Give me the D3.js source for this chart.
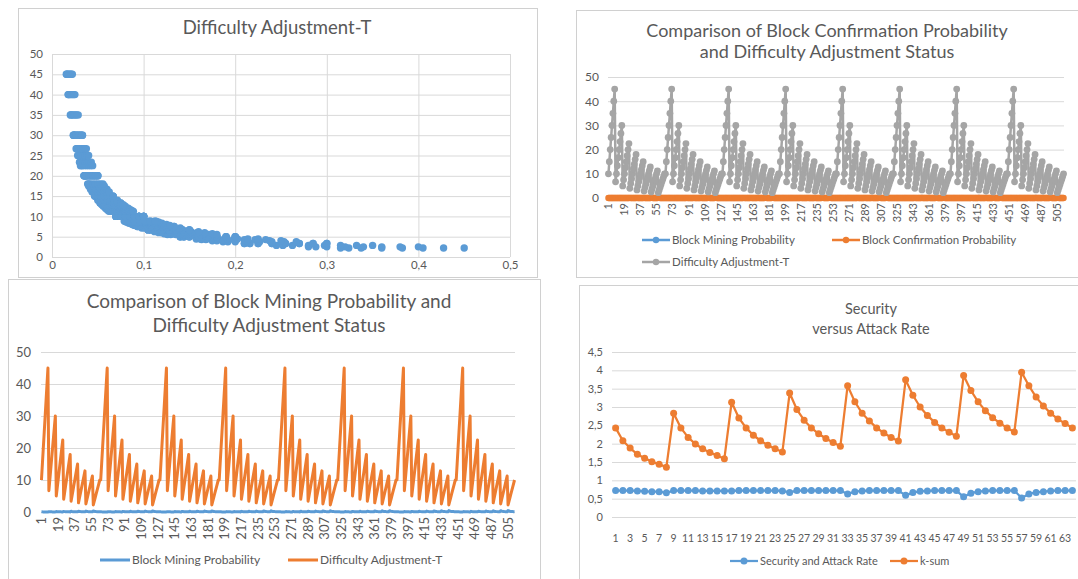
<!DOCTYPE html>
<html>
<head>
<meta charset="utf-8">
<script src="https://cdn.jsdelivr.net/npm/d3@7/dist/d3.min.js"></script>
<style>
  body { margin: 0; background: #fff; }
  text { font-family: Lato, "Open Sans", sans-serif; }
</style>
</head>
<body>
<svg id="chart" width="1078" height="579"></svg>
<script>
// ---- data (one row per 64-step cycle) ----
var difficultyT = [].concat(
  [10,15,20,25,30,35,40,45,6.67,10,13.33,16.67,20,23.33,26.67,30,5,7.5,10,12.5,15,17.5,20,22.5,4,6,8,10,12,14,16,18,3.33,5,6.67,8.33,10,11.67,13.33,15,2.86,4.29,5.71,7.14,8.57,10,11.43,12.86,2.5,3.75,5,6.25,7.5,8.75,10,11.25,2.22,3.33,4.44,5.56,6.67,7.78,8.89,10],
  [10,15,20,25,30,35,40,45,6.67,10,13.33,16.67,20,23.33,26.67,30,5,7.5,10,12.5,15,17.5,20,22.5,4,6,8,10,12,14,16,18,3.33,5,6.67,8.33,10,11.67,13.33,15,2.86,4.29,5.71,7.14,8.57,10,11.43,12.86,2.5,3.75,5,6.25,7.5,8.75,10,11.25,2.22,3.33,4.44,5.56,6.67,7.78,8.89,10],
  [10,15,20,25,30,35,40,45,6.67,10,13.33,16.67,20,23.33,26.67,30,5,7.5,10,12.5,15,17.5,20,22.5,4,6,8,10,12,14,16,18,3.33,5,6.67,8.33,10,11.67,13.33,15,2.86,4.29,5.71,7.14,8.57,10,11.43,12.86,2.5,3.75,5,6.25,7.5,8.75,10,11.25,2.22,3.33,4.44,5.56,6.67,7.78,8.89,10],
  [10,15,20,25,30,35,40,45,6.67,10,13.33,16.67,20,23.33,26.67,30,5,7.5,10,12.5,15,17.5,20,22.5,4,6,8,10,12,14,16,18,3.33,5,6.67,8.33,10,11.67,13.33,15,2.86,4.29,5.71,7.14,8.57,10,11.43,12.86,2.5,3.75,5,6.25,7.5,8.75,10,11.25,2.22,3.33,4.44,5.56,6.67,7.78,8.89,10],
  [10,15,20,25,30,35,40,45,6.67,10,13.33,16.67,20,23.33,26.67,30,5,7.5,10,12.5,15,17.5,20,22.5,4,6,8,10,12,14,16,18,3.33,5,6.67,8.33,10,11.67,13.33,15,2.86,4.29,5.71,7.14,8.57,10,11.43,12.86,2.5,3.75,5,6.25,7.5,8.75,10,11.25,2.22,3.33,4.44,5.56,6.67,7.78,8.89,10],
  [10,15,20,25,30,35,40,45,6.67,10,13.33,16.67,20,23.33,26.67,30,5,7.5,10,12.5,15,17.5,20,22.5,4,6,8,10,12,14,16,18,3.33,5,6.67,8.33,10,11.67,13.33,15,2.86,4.29,5.71,7.14,8.57,10,11.43,12.86,2.5,3.75,5,6.25,7.5,8.75,10,11.25,2.22,3.33,4.44,5.56,6.67,7.78,8.89,10],
  [10,15,20,25,30,35,40,45,6.67,10,13.33,16.67,20,23.33,26.67,30,5,7.5,10,12.5,15,17.5,20,22.5,4,6,8,10,12,14,16,18,3.33,5,6.67,8.33,10,11.67,13.33,15,2.86,4.29,5.71,7.14,8.57,10,11.43,12.86,2.5,3.75,5,6.25,7.5,8.75,10,11.25,2.22,3.33,4.44,5.56,6.67,7.78,8.89,10],
  [10,15,20,25,30,35,40,45,6.67,10,13.33,16.67,20,23.33,26.67,30,5,7.5,10,12.5,15,17.5,20,22.5,4,6,8,10,12,14,16,18,3.33,5,6.67,8.33,10,11.67,13.33,15,2.86,4.29,5.71,7.14,8.57,10,11.43,12.86,2.5,3.75,5,6.25,7.5,8.75,10,11.25,2.22,3.33,4.44,5.56,6.67,7.78,8.89,10]
);

var blockMining = [].concat(
  [.07,.0467,.035,.028,.0233,.02,.0175,.0156,.105,.07,.0525,.042,.035,.03,.0263,.0233,.14,.0933,.07,.056,.0467,.04,.035,.0311,.175,.1167,.0875,.07,.0583,.05,.0438,.0389,.21,.14,.105,.084,.07,.06,.0525,.0467,.245,.1633,.1225,.098,.0817,.07,.0613,.0544,.28,.1867,.14,.112,.0933,.08,.07,.0622,.315,.21,.1575,.126,.105,.09,.0788,.07],
  [.072,.048,.036,.0288,.024,.0206,.018,.016,.108,.072,.054,.0432,.036,.0309,.027,.024,.144,.096,.072,.0576,.048,.0411,.036,.032,.18,.12,.09,.072,.06,.0514,.045,.04,.216,.144,.108,.0864,.072,.0617,.054,.048,.252,.168,.126,.1008,.084,.072,.063,.056,.288,.192,.144,.1152,.096,.0823,.072,.064,.324,.216,.162,.1296,.108,.0926,.081,.072],
  [.075,.05,.0375,.03,.025,.0214,.0188,.0167,.1125,.075,.0563,.045,.0375,.0321,.0281,.025,.15,.1,.075,.06,.05,.0429,.0375,.0333,.1875,.125,.0938,.075,.0625,.0536,.0469,.0417,.225,.15,.1125,.09,.075,.0643,.0563,.05,.2625,.175,.1313,.105,.0875,.075,.0656,.0583,.3,.2,.15,.12,.1,.0857,.075,.0667,.3375,.225,.1688,.135,.1125,.0964,.0844,.075],
  [.08,.0533,.04,.032,.0267,.0229,.02,.0178,.12,.08,.06,.048,.04,.0343,.03,.0267,.16,.1067,.08,.064,.0533,.0457,.04,.0356,.2,.1333,.1,.08,.0667,.0571,.05,.0444,.24,.16,.12,.096,.08,.0686,.06,.0533,.28,.1867,.14,.112,.0933,.08,.07,.0622,.32,.2133,.16,.128,.1067,.0914,.08,.0711,.36,.24,.18,.144,.12,.1029,.09,.08],
  [.085,.0567,.0425,.034,.0283,.0243,.0213,.0189,.1275,.085,.0638,.051,.0425,.0364,.0319,.0283,.17,.1133,.085,.068,.0567,.0486,.0425,.0378,.2125,.1417,.1063,.085,.0708,.0607,.0531,.0472,.255,.17,.1275,.102,.085,.0729,.0638,.0567,.2975,.1983,.1488,.119,.0992,.085,.0744,.0661,.34,.2267,.17,.136,.1133,.0971,.085,.0756,.3825,.255,.1913,.153,.1275,.1093,.0956,.085],
  [.09,.06,.045,.036,.03,.0257,.0225,.02,.135,.09,.0675,.054,.045,.0386,.0338,.03,.18,.12,.09,.072,.06,.0514,.045,.04,.225,.15,.1125,.09,.075,.0643,.0563,.05,.27,.18,.135,.108,.09,.0771,.0675,.06,.315,.21,.1575,.126,.105,.09,.0788,.07,.36,.24,.18,.144,.12,.1029,.09,.08,.405,.27,.2025,.162,.135,.1157,.1013,.09],
  [.095,.0633,.0475,.038,.0317,.0271,.0238,.0211,.1425,.095,.0713,.057,.0475,.0407,.0356,.0317,.19,.1267,.095,.076,.0633,.0543,.0475,.0422,.2375,.1583,.1188,.095,.0792,.0679,.0594,.0528,.285,.19,.1425,.114,.095,.0814,.0713,.0633,.3325,.2217,.1663,.133,.1108,.095,.0831,.0739,.38,.2533,.19,.152,.1267,.1086,.095,.0844,.4275,.285,.2138,.171,.1425,.1221,.1069,.095],
  [.1,.0667,.05,.04,.0333,.0286,.025,.0222,.15,.1,.075,.06,.05,.0429,.0375,.0333,.2,.1333,.1,.08,.0667,.0571,.05,.0444,.25,.1667,.125,.1,.0833,.0714,.0625,.0556,.3,.2,.15,.12,.1,.0857,.075,.0667,.35,.2333,.175,.14,.1167,.1,.0875,.0778,.4,.2667,.2,.16,.1333,.1143,.1,.0889,.45,.3,.225,.18,.15,.1286,.1125,.1]
);

var blockConfirm = [].concat(
  [.005,.002,.001,.001,0,0,0,0,.011,.005,.003,.002,.001,.001,.001,0,.02,.009,.005,.003,.002,.002,.001,.001,.031,.014,.008,.005,.003,.003,.002,.002,.044,.02,.011,.007,.005,.004,.003,.002,.06,.027,.015,.01,.007,.005,.004,.003,.078,.035,.02,.013,.009,.007,.005,.004,.099,.044,.025,.016,.011,.008,.006,.005],
  [.005,.002,.001,.001,0,0,0,0,.011,.005,.003,.002,.001,.001,.001,0,.02,.009,.005,.003,.002,.002,.001,.001,.031,.014,.008,.005,.003,.003,.002,.002,.044,.02,.011,.007,.005,.004,.003,.002,.06,.027,.015,.01,.007,.005,.004,.003,.078,.035,.02,.013,.009,.007,.005,.004,.099,.044,.025,.016,.011,.008,.006,.005],
  [.005,.002,.001,.001,0,0,0,0,.011,.005,.003,.002,.001,.001,.001,0,.02,.009,.005,.003,.002,.002,.001,.001,.031,.014,.008,.005,.003,.003,.002,.002,.044,.02,.011,.007,.005,.004,.003,.002,.06,.027,.015,.01,.007,.005,.004,.003,.078,.035,.02,.013,.009,.007,.005,.004,.099,.044,.025,.016,.011,.008,.006,.005],
  [.005,.002,.001,.001,0,0,0,0,.011,.005,.003,.002,.001,.001,.001,0,.02,.009,.005,.003,.002,.002,.001,.001,.031,.014,.008,.005,.003,.003,.002,.002,.044,.02,.011,.007,.005,.004,.003,.002,.06,.027,.015,.01,.007,.005,.004,.003,.078,.035,.02,.013,.009,.007,.005,.004,.099,.044,.025,.016,.011,.008,.006,.005],
  [.005,.002,.001,.001,0,0,0,0,.011,.005,.003,.002,.001,.001,.001,0,.02,.009,.005,.003,.002,.002,.001,.001,.031,.014,.008,.005,.003,.003,.002,.002,.044,.02,.011,.007,.005,.004,.003,.002,.06,.027,.015,.01,.007,.005,.004,.003,.078,.035,.02,.013,.009,.007,.005,.004,.099,.044,.025,.016,.011,.008,.006,.005],
  [.005,.002,.001,.001,0,0,0,0,.011,.005,.003,.002,.001,.001,.001,0,.02,.009,.005,.003,.002,.002,.001,.001,.031,.014,.008,.005,.003,.003,.002,.002,.044,.02,.011,.007,.005,.004,.003,.002,.06,.027,.015,.01,.007,.005,.004,.003,.078,.035,.02,.013,.009,.007,.005,.004,.099,.044,.025,.016,.011,.008,.006,.005],
  [.005,.002,.001,.001,0,0,0,0,.011,.005,.003,.002,.001,.001,.001,0,.02,.009,.005,.003,.002,.002,.001,.001,.031,.014,.008,.005,.003,.003,.002,.002,.044,.02,.011,.007,.005,.004,.003,.002,.06,.027,.015,.01,.007,.005,.004,.003,.078,.035,.02,.013,.009,.007,.005,.004,.099,.044,.025,.016,.011,.008,.006,.005],
  [.005,.002,.001,.001,0,0,0,0,.011,.005,.003,.002,.001,.001,.001,0,.02,.009,.005,.003,.002,.002,.001,.001,.031,.014,.008,.005,.003,.003,.002,.002,.044,.02,.011,.007,.005,.004,.003,.002,.06,.027,.015,.01,.007,.005,.004,.003,.078,.035,.02,.013,.009,.007,.005,.004,.099,.044,.025,.016,.011,.008,.006,.005]
);

var securityRate = [.72,.72,.72,.71,.70,.69,.69,.66, .72,.72,.72,.72,.71,.71,.71,.71,
  .71,.72,.72,.72,.72,.72,.72,.71, .67,.72,.72,.72,.72,.72,.72,.72,
  .63,.69,.71,.72,.72,.72,.72,.72, .59,.67,.70,.71,.72,.72,.72,.72,
  .55,.65,.69,.71,.72,.72,.72,.72, .52,.63,.67,.69,.71,.72,.72,.72];
var kSum = [2.43,2.08,1.88,1.71,1.6,1.51,1.44,1.36, 2.83,2.43,2.17,1.99,1.86,1.76,1.68,1.59,
  3.13,2.7,2.43,2.23,2.08,1.96,1.86,1.77, 3.38,2.93,2.64,2.43,2.27,2.14,2.03,1.93,
  3.58,3.14,2.83,2.62,2.43,2.29,2.17,2.07, 3.74,3.32,3.0,2.77,2.58,2.43,2.31,2.2,
  3.86,3.45,3.14,2.9,2.71,2.56,2.43,2.32, 3.95,3.58,3.27,3.03,2.83,2.67,2.55,2.43];

var longAxisLabels = [1,19,37,55,73,91,109,127,145,163,181,199,217,235,253,271,289,307,325,343,361,379,397,415,433,451,469,487,505];
var shortAxisLabels = [1,3,5,7,9,11,13,15,17,19,21,23,25,27,29,31,33,35,37,39,41,43,45,47,49,51,53,55,57,59,61,63];
var scatterXTicks = [0,0.1,0.2,0.3,0.4,0.5];
var scatterYTicks = [0,5,10,15,20,25,30,35,40,45,50];
var lineYTicks = [0,10,20,30,40,50];
var securityYTicks = [0,0.5,1,1.5,2,2.5,3,3.5,4,4.5];

// ---- drawing ----
var svg = d3.select("#chart");
var textGray = "#595959", gridGray = "#d9d9d9", frameGray = "#d0d0d0";
var blue = "#5b9bd5", orange = "#ed7d31", grey = "#a5a5a5";
var comma = d => String(d).replace(".", ",");

function frame(x0, y0, x1, y1) {
  svg.append("rect").attr("x", x0 + 0.5).attr("y", y0 + 0.5)
    .attr("width", x1 - x0).attr("height", y1 - y0)
    .attr("fill", "#fff").attr("stroke", frameGray);
}

function title(lines, cx, y, size, gap) {
  var t = svg.append("text").attr("text-anchor", "middle").attr("font-size", size).attr("fill", textGray);
  lines.forEach((l, i) => t.append("tspan").attr("x", cx).attr("y", y + i * gap).text(l));
}

function styleAxis(g, size) {
  g.attr("font-family", null).attr("font-size", size);
  g.select(".domain").remove();
  g.selectAll("line").attr("stroke", gridGray);
  g.selectAll("text").attr("fill", textGray);
}

function yGrid(y, ticks, x0, x1, pad, size) {
  var g = svg.append("g").attr("transform", `translate(${x0},0)`)
    .call(d3.axisLeft(y).tickValues(ticks).tickSize(-(x1 - x0)).tickPadding(pad).tickFormat(comma));
  styleAxis(g, size);
}

function rotatedCats(x, y0, size) {
  var g = svg.append("g").attr("transform", `translate(0,${y0})`)
    .call(d3.axisBottom(x).tickValues(longAxisLabels).tickSize(0));
  styleAxis(g, size);
  g.selectAll("text").attr("transform", "rotate(-90)").attr("x", -5).attr("y", 0)
    .attr("dy", "0.35em").style("text-anchor", "end");
}

function series(x, y, vals, color, width, r) {
  var pts = vals.map((v, i) => [x(i + 1) + x.bandwidth() / 2, y(v)]);
  svg.append("path").attr("d", d3.line()(pts)).attr("fill", "none")
    .attr("stroke", color).attr("stroke-width", width).attr("stroke-linejoin", "round");
  if (r) {
    svg.append("g").selectAll("circle").data(pts).join("circle")
      .attr("cx", d => d[0]).attr("cy", d => d[1]).attr("r", r).attr("fill", color);
  }
}

function legendItem(x, y, w, color, label, r, size, lw) {
  svg.append("line").attr("x1", x).attr("x2", x + w).attr("y1", y).attr("y2", y)
    .attr("stroke", color).attr("stroke-width", lw);
  if (r) svg.append("circle").attr("cx", x + w / 2).attr("cy", y).attr("r", r).attr("fill", color);
  svg.append("text").attr("x", x + w + 2).attr("y", y).attr("dy", "0.35em")
    .attr("font-size", size).attr("fill", textGray).text(label);
}

// top left: scatter
frame(18, 8, 537, 277);
title(["Difficulty Adjustment-T"], 277, 34, 18.5, 0);
var sx = d3.scaleLinear().domain([0, 0.5]).range([52, 510]);
var sy = d3.scaleLinear().domain([0, 50]).range([257, 54]);
yGrid(sy, scatterYTicks, 52, 510, 9, 11.5);
var sxg = svg.append("g").attr("transform", "translate(0,257)")
  .call(d3.axisBottom(sx).tickValues(scatterXTicks).tickSize(-(257 - 54)).tickPadding(4).tickFormat(comma));
styleAxis(sxg, 11.5);
svg.append("g").selectAll("circle").data(difficultyT).join("circle")
  .attr("cx", (d, i) => sx(blockMining[i])).attr("cy", d => sy(d))
  .attr("r", 3.7).attr("fill", blue);

// top right
var cats512 = difficultyT.map((d, i) => i + 1);
frame(576, 10, 1090, 277);
title(["Comparison of Block Confirmation Probability", "and Difficulty Adjustment Status"], 827, 37, 18, 21);
var tx = d3.scaleBand().domain(cats512).range([608, 1064]);
var ty = d3.scaleLinear().domain([0, 50]).range([198, 77]);
yGrid(ty, lineYTicks, 608, 1064, 9, 12);
rotatedCats(tx, 198, 11);
series(tx, ty, blockMining, blue, 2, 2.5);
series(tx, ty, blockConfirm, orange, 2.5, 3.2);
series(tx, ty, difficultyT, grey, 2.5, 3.4);
legendItem(642, 240, 28, blue, "Block Mining Probability", 3.2, 11.5, 2.5);
legendItem(832, 240, 28, orange, "Block Confirmation Probability", 3.2, 11.5, 2.5);
legendItem(642, 262, 28, grey, "Difficulty Adjustment-T", 3.2, 11.5, 2.5);

// bottom left
frame(8, 279, 540, 590);
title(["Comparison of Block Mining Probability and", "Difficulty Adjustment Status"], 269, 308, 19, 24);
var bx = d3.scaleBand().domain(cats512).range([41, 515]);
var by = d3.scaleLinear().domain([0, 50]).range([512, 352]);
yGrid(by, lineYTicks, 41, 515, 10, 13);
rotatedCats(bx, 512, 13);
series(bx, by, blockMining, blue, 3, 0);
series(bx, by, difficultyT, orange, 3, 0);
legendItem(100, 560, 30, blue, "Block Mining Probability", 0, 12, 3);
legendItem(288, 560, 30, orange, "Difficulty Adjustment-T", 0, 12, 3);

// bottom right
var cats64 = kSum.map((d, i) => i + 1);
frame(579, 285, 1090, 590);
title(["Security", "versus Attack Rate"], 871, 314, 14.5, 20);
var rx = d3.scaleBand().domain(cats64).range([612, 1076]);
var ry = d3.scaleLinear().domain([0, 4.5]).range([517, 352]);
yGrid(ry, securityYTicks, 612, 1076, 9, 11);
var rxg = svg.append("g").attr("transform", "translate(0,517)")
  .call(d3.axisBottom(rx).tickValues(shortAxisLabels).tickSize(0).tickPadding(18));
styleAxis(rxg, 10.5);
series(rx, ry, securityRate, blue, 2.25, 3.5);
series(rx, ry, kSum, orange, 2.25, 3.5);
legendItem(730, 561, 28, blue, "Security and Attack Rate", 3.5, 11, 2.25);
legendItem(890, 561, 28, orange, "k-sum", 3.5, 11, 2.25);
</script>
</body>
</html>
